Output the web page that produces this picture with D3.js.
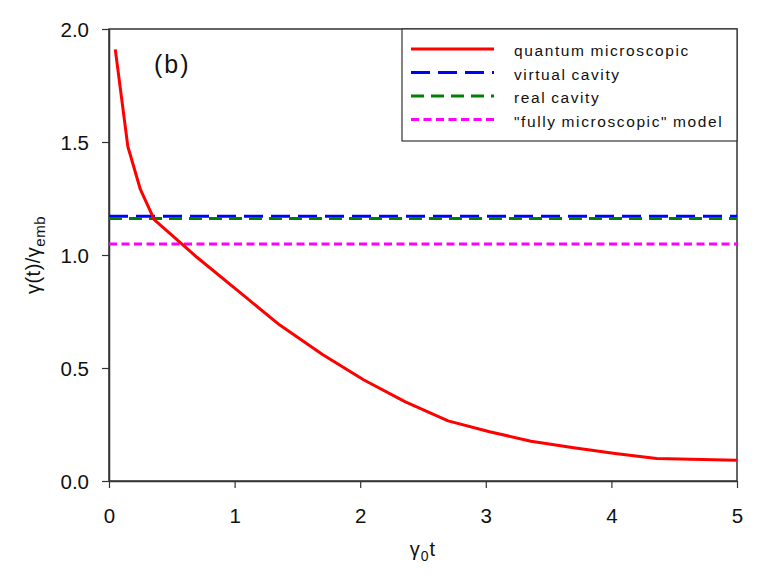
<!DOCTYPE html>
<html>
<head>
<meta charset="utf-8">
<script src="https://cdn.jsdelivr.net/npm/d3@7"></script>
<style>
  body { margin: 0; background: #fff; }
  svg { font-family: "Liberation Sans", Arial, sans-serif; }
</style>
</head>
<body>
<div class="chart"></div>
<script>
// quantum microscopic curve
const tValues = [0.05, 0.15, 0.25, 0.36, 0.70, 1.03, 1.36, 1.70, 2.03, 2.36, 2.70, 3.03, 3.36, 3.70, 4.03, 4.36, 5.0];
const quantumValues = [1.91, 1.48, 1.29, 1.157, 0.99, 0.84, 0.69, 0.56, 0.447, 0.35, 0.266, 0.218, 0.176, 0.147, 0.122, 0.10, 0.092];

// constant models
const seriesNames = ["quantum microscopic", "virtual cavity", "real cavity", "\"fully microscopic\" model"];
const constantValues = [null, 1.172, 1.162, 1.049];
const seriesColors = ["#ff0000", "#0000ff", "#008000", "#ff00ff"];
const seriesDashes = [null, "19,8", "13,7", "8,4.5"];

const xTicks = [0, 1, 2, 3, 4, 5];
const yTicks = [0, 0.5, 1.0, 1.5, 2.0];

const margin = { top: 29, right: 29, bottom: 103, left: 109 },
  width = 766 - margin.left - margin.right,
  height = 584 - margin.top - margin.bottom;

const svg = d3.select(".chart")
  .append("svg")
  .attr("width", 766)
  .attr("height", 584);

const g = svg.append("g")
  .attr("transform", `translate(${margin.left},${margin.top})`);

const x = d3.scaleLinear().domain([0, 5]).range([0, width]);
const y = d3.scaleLinear().domain([0, 2]).range([height, 0]);

// frame
g.append("rect")
  .attr("width", width)
  .attr("height", height)
  .attr("fill", "none")
  .attr("stroke", "#333")
  .attr("stroke-width", 1.5);

const xAxis = g.append("g")
  .attr("transform", `translate(0,${height})`)
  .call(d3.axisBottom(x).tickValues(xTicks).tickFormat(d3.format("d")).tickSize(7).tickSizeOuter(0));
const yAxis = g.append("g")
  .call(d3.axisLeft(y).tickValues(yTicks).tickFormat(d3.format(".1f")).tickSize(7).tickSizeOuter(0));

[xAxis, yAxis].forEach(a => {
  a.select(".domain").attr("stroke", "#333").attr("stroke-width", 1.5);
  a.selectAll(".tick line").attr("stroke", "#333").attr("stroke-width", 1.2);
  a.selectAll(".tick text")
    .attr("font-family", "Liberation Sans, Arial, sans-serif")
    .attr("font-size", 20.5)
    .attr("fill", "#111");
});
xAxis.selectAll(".tick text").attr("y", 10).attr("dy", 32);
yAxis.selectAll(".tick text").attr("x", -20).attr("dy", 7.5);

// constant lines
constantValues.forEach((v, i) => {
  if (v === null) return;
  g.append("line")
    .attr("x1", 0)
    .attr("x2", width)
    .attr("y1", y(v))
    .attr("y2", y(v))
    .attr("stroke", seriesColors[i])
    .attr("stroke-width", 3)
    .attr("stroke-dasharray", seriesDashes[i]);
});

// quantum microscopic curve
const line = d3.line()
  .x((d, i) => x(tValues[i]))
  .y(d => y(d));

g.append("path")
  .datum(quantumValues)
  .attr("fill", "none")
  .attr("stroke", seriesColors[0])
  .attr("stroke-width", 3)
  .attr("stroke-linejoin", "round")
  .attr("d", line);

// panel label
g.append("text")
  .attr("x", 45)
  .attr("y", 44)
  .attr("font-size", 25)
  .attr("letter-spacing", 2)
  .attr("fill", "#111")
  .text("(b)");

// legend
const legend = g.append("g")
  .attr("transform", `translate(${width - 335},0)`);
legend.append("rect")
  .attr("width", 335)
  .attr("height", 112)
  .attr("fill", "#fff")
  .attr("stroke", "#333")
  .attr("stroke-width", 1.2);

seriesNames.forEach((name, i) => {
  const ly = 20 + i * 23.5;
  legend.append("line")
    .attr("x1", 9)
    .attr("x2", 92)
    .attr("y1", ly)
    .attr("y2", ly)
    .attr("stroke", seriesColors[i])
    .attr("stroke-width", 3)
    .attr("stroke-dasharray", seriesDashes[i]);
  legend.append("text")
    .attr("x", 112)
    .attr("y", ly + 7)
    .attr("font-size", 15.5)
    .attr("letter-spacing", 1.6)
    .attr("word-spacing", -1)
    .attr("fill", "#111")
    .text(name);
});

// axis titles
svg.append("text")
  .attr("x", 423)
  .attr("y", 556)
  .attr("text-anchor", "middle")
  .attr("font-size", 20)
  .attr("letter-spacing", 1)
  .attr("fill", "#111")
  .html('γ<tspan font-size="14" dy="5">0</tspan><tspan dy="-5">t</tspan>');

svg.append("text")
  .attr("transform", "translate(40,255) rotate(-90)")
  .attr("text-anchor", "middle")
  .attr("font-size", 20)
  .attr("letter-spacing", 0.5)
  .attr("fill", "#111")
  .html('γ(t)/γ<tspan font-size="15" dy="5">emb</tspan>');
</script>
</body>
</html>
